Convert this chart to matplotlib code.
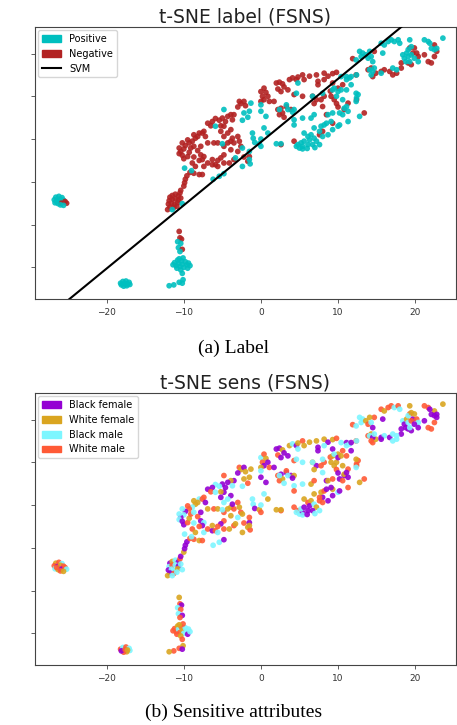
import matplotlib
matplotlib.use("Agg")
import matplotlib.pyplot as plt
import numpy as np
from matplotlib.patches import Patch
from matplotlib.lines import Line2D

# ---- data: (x, y, label, sens)  label: 1=Positive 0=Negative
# sens: 0=Black female, 1=White female, 2=Black male, 3=White male
left_cluster = [
    (-26.6, -13.6, 1, 1), (-26.2, -13.4, 1, 3), (-25.8, -13.7, 1, 2), (-26.8, -14.2, 1, 3),
    (-26.4, -14.4, 1, 0), (-26.0, -14.1, 1, 1), (-25.6, -14.3, 1, 3), (-26.7, -14.9, 1, 2),
    (-26.3, -15.1, 1, 1), (-25.9, -15.0, 0, 0), (-25.4, -14.6, 0, 3), (-25.2, -15.0, 0, 2),
    (-26.0, -15.4, 1, 3), (-25.6, -15.5, 1, 1), (-26.5, -14.6, 1, 3),
]
bottom_cluster = [
    (-18.2, -33.7, 1, 3), (-17.9, -33.3, 1, 2), (-17.5, -33.2, 1, 3), (-17.1, -33.5, 1, 2),
    (-17.0, -34.0, 1, 2), (-17.4, -34.3, 1, 1), (-17.8, -34.4, 1, 3), (-18.1, -34.1, 1, 0),
    (-17.6, -33.8, 1, 3), (-17.3, -33.9, 1, 1),
]
column_cluster = [
    (-10.6, -21.6, 0, 1), (-10.5, -23.1, 0, 3), (-10.3, -23.4, 0, 0), (-10.8, -24.0, 1, 2),
    (-10.4, -24.4, 1, 3), (-10.7, -25.4, 1, 2), (-10.2, -25.8, 0, 0), (-10.5, -26.3, 1, 3),
    (-11.2, -28.9, 1, 3), (-11.0, -29.6, 1, 3), (-10.8, -28.3, 1, 1), (-10.7, -29.1, 1, 2),
    (-10.5, -29.8, 1, 3), (-10.3, -28.5, 1, 3), (-10.2, -29.3, 1, 1), (-10.0, -30.0, 1, 2),
    (-9.8, -28.7, 1, 2), (-9.6, -29.4, 1, 2), (-9.4, -29.0, 1, 2), (-9.5, -30.2, 1, 0),
    (-10.9, -30.2, 1, 3), (-10.4, -30.6, 1, 1), (-10.1, -27.8, 1, 3), (-11.4, -29.4, 1, 3),
    (-9.2, -29.6, 1, 2), (-10.6, -28.0, 1, 1),
    (-10.2, -31.4, 1, 3), (-10.1, -32.9, 1, 1), (-10.6, -33.5, 1, 3), (-10.2, -33.7, 1, 0),
    (-11.3, -34.1, 1, 3), (-11.9, -34.3, 1, 1),
]
lower_red_cluster = [
    (-11.8, -13.6, 0, 0), (-11.5, -13.2, 0, 1), (-11.1, -12.9, 0, 2), (-10.7, -13.3, 0, 0),
    (-11.9, -14.4, 0, 2), (-11.5, -14.1, 0, 3), (-11.1, -14.0, 0, 2), (-10.7, -14.3, 0, 0),
    (-12.0, -15.2, 0, 0), (-11.6, -15.0, 0, 2), (-11.2, -15.3, 0, 2), (-10.8, -14.9, 0, 1),
    (-11.8, -15.9, 0, 0), (-11.3, -16.0, 0, 3), (-10.9, -15.7, 0, 2), (-12.1, -16.5, 0, 1),
    (-10.5, -12.6, 0, 3), (-10.4, -13.8, 0, 2), (-11.5, -16.5, 1, 2), (-10.2, -15.1, 1, 2),
    (-10.4, -12.0, 0, 0), (-10.0, -11.0, 0, 1), (-9.9, -10.2, 0, 0), (-9.8, -9.4, 0, 0),
    (-9.6, -8.6, 0, 0), (-9.2, -7.8, 0, 3), (-8.7, -8.0, 0, 3), (-8.0, -8.3, 0, 1),
    (-7.6, -8.3, 0, 3), (-9.9, -6.8, 1, 2), (-9.0, -7.4, 1, 2),
]
main_negative = [
    (-2.8, 8.8, 0, 3), (-2.6, 8.3, 0, 1), (-2.2, 8.8, 0, 0), (-2.0, 7.8, 0, 1), (-3.0, 7.5, 0, 0),
    (-3.5, 5.7, 0, 0), (-3.9, 5.7, 0, 1), (-4.3, 5.3, 0, 0), (-3.7, 4.5, 0, 2), (-4.6, 4.1, 0, 0),
    (-5.0, 4.9, 0, 0), (-5.4, 4.4, 0, 2), (-5.9, 4.8, 0, 2), (-6.3, 4.1, 0, 0), (-6.9, 3.7, 0, 0),
    (-6.5, 3.1, 0, 3), (-4.8, 3.0, 0, 0), (-5.2, 3.1, 0, 1), (-7.4, 1.8, 0, 3), (-8.0, 1.4, 0, 2),
    (-8.7, 1.0, 0, 1), (-8.5, 0.2, 0, 1), (-8.9, -0.5, 0, 2), (-9.3, -0.9, 0, 3), (-9.8, -1.5, 0, 0),
    (-10.0, -2.3, 0, 2), (-10.4, -2.9, 0, 0), (-10.6, -3.4, 0, 2), (-10.2, -3.8, 0, 0), (-10.0, -4.6, 0, 0),
    (-9.5, -4.1, 0, 3), (-9.3, -3.1, 0, 1), (-9.1, -2.1, 0, 3), (-8.7, -1.7, 0, 2), (-8.2, -2.7, 0, 3),
    (-7.8, -3.7, 0, 0), (-7.4, -4.1, 0, 2), (-7.6, -4.8, 0, 0), (-8.0, -5.0, 0, 3), (-8.7, -4.2, 0, 2),
    (-8.9, -5.6, 0, 3), (-8.5, -6.4, 0, 1), (-7.4, -6.4, 0, 2), (-6.9, -5.6, 0, 3), (-6.3, -6.0, 0, 0),
    (-5.9, -6.0, 0, 3), (-6.3, -4.8, 0, 1), (-6.1, -0.9, 0, 3), (-5.6, -0.9, 0, 1), (-4.8, -1.7, 0, 3),
    (-4.3, -0.9, 0, 1), (-3.9, -0.5, 0, 1), (-3.5, -0.9, 0, 3), (-3.7, 0.2, 0, 0), (-3.0, 0.6, 0, 3),
    (-2.8, -0.5, 0, 1), (-2.6, -1.7, 0, 3), (-3.0, -2.9, 0, 2), (-3.9, -2.5, 0, 1), (-4.8, -3.7, 0, 3),
    (-5.2, -4.4, 0, 0), (-5.6, -5.0, 0, 3), (-5.6, -6.4, 0, 2), (-4.8, -5.6, 0, 3), (-4.1, -5.6, 0, 1),
    (-3.5, -4.8, 0, 3), (-2.2, -4.2, 0, 3), (-1.7, -5.2, 0, 1), (-1.5, -4.1, 0, 0), (-3.9, 2.2, 0, 0),
    (-4.3, 1.4, 0, 2), (-4.8, 0.6, 0, 2), (-5.2, 1.8, 0, 0), (-7.6, 1.4, 0, 3), (-8.2, 0.6, 0, 1),
    (-7.2, 0.6, 0, 0), (-6.9, -0.9, 0, 1), (-9.5, -0.2, 0, 3), (-10.2, -0.9, 0, 2), (-10.6, -2.1, 0, 2),
    (-7.8, -1.7, 0, 0),
]
upper_negative = [
    (0.0, 11.1, 0, 2), (0.4, 11.9, 0, 3), (0.65, 10.9, 0, 1), (0.2, 10.0, 0, 3), (0.9, 10.0, 0, 0),
    (0.4, 9.2, 0, 0), (0.0, 8.8, 0, 1), (1.1, 8.8, 0, 3), (1.7, 8.8, 0, 0), (2.0, 13.1, 0, 0),
    (2.4, 13.3, 0, 0), (2.8, 12.9, 0, 1), (3.0, 12.2, 0, 0), (2.2, 11.7, 0, 3), (2.6, 11.1, 0, 0),
    (3.5, 11.5, 0, 0), (3.7, 13.9, 0, 1), (4.1, 14.3, 0, 2), (4.6, 13.9, 0, 0), (4.8, 14.5, 0, 1),
    (5.4, 15.0, 0, 3), (5.6, 13.9, 0, 1), (6.3, 14.7, 0, 1), (7.2, 15.0, 0, 1), (7.4, 13.5, 0, 0),
    (8.2, 15.4, 0, 1), (8.7, 14.7, 0, 0), (9.3, 15.3, 0, 1), (9.8, 15.6, 0, 3), (8.2, 13.9, 0, 2),
    (2.2, 6.9, 0, 3), (2.6, 7.2, 0, 0), (3.3, 7.6, 0, 0), (3.9, 6.9, 0, 0), (2.4, 5.7, 0, 3),
    (2.8, 6.1, 0, 1), (4.3, 10.4, 0, 3), (5.4, 10.0, 0, 2), (6.7, 10.0, 0, 1), (7.2, 9.2, 0, 0),
    (7.8, 9.2, 0, 3), (8.2, 10.0, 0, 3), (8.5, 5.7, 0, 0), (9.1, 10.0, 0, 1), (9.5, 9.2, 0, 1),
    (9.8, 8.3, 0, 3), (10.0, 7.5, 0, 0), (10.8, 6.9, 0, 0), (11.3, 8.4, 0, 3), (12.4, 9.2, 0, 3),
    (9.3, 13.1, 0, 0), (7.4, 12.7, 0, 0), (6.9, 8.3, 0, 1), (3.0, 5.1, 0, 2), (4.3, -0.5, 0, 3),
    (2.6, -1.3, 0, 3), (8.0, 1.8, 0, 0), (7.6, 1.0, 0, 3), (9.3, 3.7, 0, 1), (8.0, 7.6, 0, 2),
    (13.4, 6.1, 0, 3), (10.0, 11.9, 0, 1), (10.6, 12.7, 0, 3), (9.0, 11.2, 0, 3),
]
top_right_negative = [
    (14.7, 20.5, 0, 3), (13.9, 16.2, 0, 3), (14.3, 16.6, 0, 1), (14.5, 14.6, 0, 3), (14.9, 15.4, 0, 1),
    (15.6, 15.8, 0, 0), (16.0, 16.2, 0, 2), (16.7, 15.8, 0, 0), (17.1, 15.0, 0, 2), (17.6, 15.4, 0, 2),
    (18.2, 16.6, 0, 0), (18.2, 17.8, 0, 0), (19.1, 17.8, 0, 0), (19.3, 21.3, 0, 3), (19.7, 20.1, 0, 0),
    (20.2, 20.1, 0, 3), (19.9, 21.3, 0, 1), (20.4, 19.3, 0, 2), (21.2, 19.7, 0, 0), (21.7, 18.1, 0, 3),
    (22.1, 17.8, 0, 3), (22.5, 19.3, 0, 3), (22.8, 20.5, 0, 0), (22.5, 22.0, 0, 1), (19.5, 17.4, 0, 0),
    (12.35, 15.0, 0, 3), (11.9, 18.8, 0, 3),
]
left_positive = [
    (-6.2, -9.4, 1, 2), (-5.4, -8.7, 1, 2), (-4.8, -8.1, 1, 0), (-3.3, -4.4, 1, 1), (-2.4, -6.4, 1, 1),
    (-1.4, -5.8, 1, 3), (-1.5, -4.8, 1, 1), (-2.4, -2.1, 1, 1), (-1.5, -2.9, 1, 3), (-1.0, 0.2, 1, 2),
    (-0.8, -0.8, 1, 0), (-0.2, -1.1, 1, 1), (0.0, 0.0, 1, 2), (-5.0, -1.1, 1, 2), (-5.9, 3.0, 1, 2),
    (-4.8, 6.9, 1, 3), (-2.2, 6.1, 1, 1), (-1.7, 5.1, 1, 3), (-2.4, 4.4, 1, 2), (-1.3, 8.4, 1, 1),
    (-1.5, 6.5, 1, 1), (0.0, 6.5, 1, 0), (0.4, 2.6, 1, 2), (0.65, 5.3, 1, 0), (0.9, 1.4, 1, 1),
    (-1.1, 1.4, 1, 2), (2.0, -1.1, 1, 1), (2.6, -1.1, 1, 1), (0.0, -1.7, 1, 3),
]
right_positive = [
    (4.8, -1.3, 1, 3), (5.0, -2.1, 1, 2), (5.4, -1.7, 1, 0), (5.2, -0.9, 1, 2), (5.6, -0.5, 1, 0),
    (6.1, -1.3, 1, 0), (5.6, 1.4, 1, 1), (6.1, 0.6, 1, 3), (6.5, 1.0, 1, 1), (6.3, -0.2, 1, 0),
    (6.9, 0.2, 1, 2), (7.2, -0.5, 1, 1), (6.7, -1.3, 1, 0), (7.6, -1.3, 1, 2), (6.9, 2.6, 1, 1),
    (7.6, 1.8, 1, 3), (7.8, 3.0, 1, 1), (8.2, 3.3, 1, 3), (8.5, 3.7, 1, 0), (9.1, 4.1, 1, 0),
    (8.7, 1.0, 1, 0), (9.3, 2.2, 1, 0), (10.0, 3.0, 1, 2), (10.2, 3.3, 1, 0), (11.3, 4.1, 1, 3),
    (6.5, 4.9, 1, 1), (6.9, 5.7, 1, 3), (5.4, 4.9, 1, 2), (4.3, 4.5, 1, 2), (4.3, 3.3, 1, 3),
    (8.0, 0.6, 1, 3), (8.7, 5.7, 1, 1), (9.3, 6.1, 1, 3), (10.2, 6.1, 1, 0), (10.6, 5.7, 1, 3),
    (10.8, 7.2, 1, 1), (11.1, 7.6, 1, 0), (11.3, 6.5, 1, 0), (12.6, 10.4, 1, 3), (12.4, 9.6, 1, 3),
    (12.8, 5.3, 1, 1), (9.8, 10.0, 1, 1), (10.6, 9.2, 1, 1), (9.3, 11.5, 1, 1), (9.5, 11.9, 1, 2),
    (10.0, 11.1, 1, 0), (10.4, 11.5, 1, 1), (11.1, 11.5, 1, 3), (10.4, 14.6, 1, 2), (11.1, 14.6, 1, 0),
    (11.5, 14.3, 1, 2), (11.7, 14.6, 1, 0), (12.4, 15.0, 1, 2), (8.0, 10.7, 1, 2), (6.7, 10.0, 1, 2),
    (4.8, 13.1, 1, 2), (4.6, 10.7, 1, 2), (0.0, 8.0, 1, 2), (2.4, 6.9, 1, 2), (3.3, 8.0, 1, 3),
    (3.5, 6.9, 1, 2), (4.3, 6.9, 1, 1), (4.1, 6.3, 1, 0), (5.4, -2.3, 1, 2), (6.0, -2.2, 1, 0),
    (4.6, -1.7, 1, 2), (7.0, -2.0, 1, 2), (11.1, 13.9, 1, 2), (11.7, 12.7, 1, 0),
]
top_right_positive = [
    (12.8, 20.5, 1, 2), (13.2, 20.1, 1, 2), (13.0, 19.3, 1, 2), (13.6, 19.7, 1, 1), (14.1, 20.5, 1, 1),
    (13.9, 18.9, 1, 3), (14.3, 19.3, 1, 2), (14.5, 18.1, 1, 0), (15.6, 22.4, 1, 3), (16.0, 22.0, 1, 1),
    (16.5, 22.8, 1, 3), (16.9, 23.2, 1, 3), (17.3, 22.8, 1, 2), (17.8, 23.2, 1, 3), (18.0, 22.4, 1, 2),
    (15.8, 20.1, 1, 0), (18.4, 19.7, 1, 2), (18.6, 18.9, 1, 0), (18.9, 20.1, 1, 1), (19.1, 19.3, 1, 2),
    (18.8, 18.1, 1, 0), (19.3, 18.1, 1, 2), (19.5, 19.7, 1, 3), (19.9, 18.9, 1, 0), (20.4, 18.1, 1, 0),
    (19.1, 20.9, 1, 2), (19.5, 21.6, 1, 1), (19.3, 23.2, 1, 1), (21.2, 23.2, 1, 3), (21.7, 22.8, 1, 3),
    (21.9, 22.4, 1, 0), (22.1, 21.2, 1, 0), (22.5, 20.9, 1, 0), (22.8, 21.2, 1, 0), (23.6, 23.6, 1, 1),
    (12.35, 18.5, 1, 2), (12.35, 10.7, 1, 1), (12.35, 8.8, 1, 2), (14.1, 16.2, 1, 2), (14.5, 15.8, 1, 0),
    (14.7, 16.6, 1, 2), (14.3, 15.0, 1, 3), (17.1, 16.6, 1, 2), (17.6, 16.2, 1, 2), (15.6, 15.4, 1, 0),
]

# SVM decision boundary  y = slope * x + intercept
svm_slope = 1.478
svm_intercept = -0.7

label_names = ["Positive", "Negative"]
label_colors = ["#00BFBF", "#B22222"]
sens_names = ["Black female", "White female", "Black male", "White male"]
sens_colors = ["#9400D3", "#DAA520", "#7DF6FF", "#FF5A36"]

x_ticks = [-20, -10, 0, 10, 20]
y_ticks = [-30, -20, -10, 0, 10, 20]

# ---- assemble
groups = [left_cluster, bottom_cluster, column_cluster, lower_red_cluster, main_negative,
          upper_negative, top_right_negative, left_positive, right_positive, top_right_positive]
pts = np.array([p for g in groups for p in g], dtype=float)
xs, ys = pts[:, 0], pts[:, 1]
labels = pts[:, 2].astype(int)
sens = pts[:, 3].astype(int)

fig = plt.figure(figsize=(4.57, 7.25), dpi=100)
W, H = 457, 725
ax1 = fig.add_axes([35 / W, 1 - 299 / H, 421 / W, 272 / H])
ax2 = fig.add_axes([35 / W, 1 - 665 / H, 421 / W, 272 / H])

pos_col = {1: label_colors[0], 0: label_colors[1]}
c1 = [pos_col[l] for l in labels]
c2 = [sens_colors[s] for s in sens]

ax1.scatter(xs, ys, c=c1, s=17, linewidths=0, alpha=0.9, zorder=2)
xl = np.array([-30.0, 26.0])
ax1.plot(xl, svm_slope * xl + svm_intercept, color="black", lw=1.5, zorder=3)
ax2.scatter(xs, ys, c=c2, s=17, linewidths=0, alpha=0.9, zorder=2)

for ax, title in [(ax1, "t-SNE label (FSNS)"), (ax2, "t-SNE sens (FSNS)")]:
    ax.set_xlim(-29.3, 25.3)
    ax.set_ylim(-37.4, 26.2)
    ax.set_xticks(x_ticks)
    ax.set_yticks(y_ticks)
    ax.set_yticklabels([])
    ax.tick_params(labelsize=6.5, length=3, width=0.6, colors="#444444", labelcolor="#333333")
    for sp in ax.spines.values():
        sp.set_color("#444444")
        sp.set_linewidth(0.8)
    ax.set_title(title, fontsize=13.5, pad=3, color="#222222")

h1 = [Patch(color=label_colors[0], label=label_names[0]),
      Patch(color=label_colors[1], label=label_names[1]),
      Line2D([0], [0], color="black", lw=1.5, label="SVM")]
ax1.legend(handles=h1, loc="upper left", fontsize=7, borderaxespad=0.3)
h2 = [Patch(color=c, label=n) for c, n in zip(sens_colors, sens_names)]
ax2.legend(handles=h2, loc="upper left", fontsize=7, borderaxespad=0.3)

fig.text(0.512, 1 - 348 / H, "(a) Label", ha="center", va="center",
         family="Liberation Serif", fontsize=14)
fig.text(0.512, 1 - 712 / H, "(b) Sensitive attributes", ha="center", va="center",
         family="Liberation Serif", fontsize=14)

fig.savefig("out.png", dpi=100)
